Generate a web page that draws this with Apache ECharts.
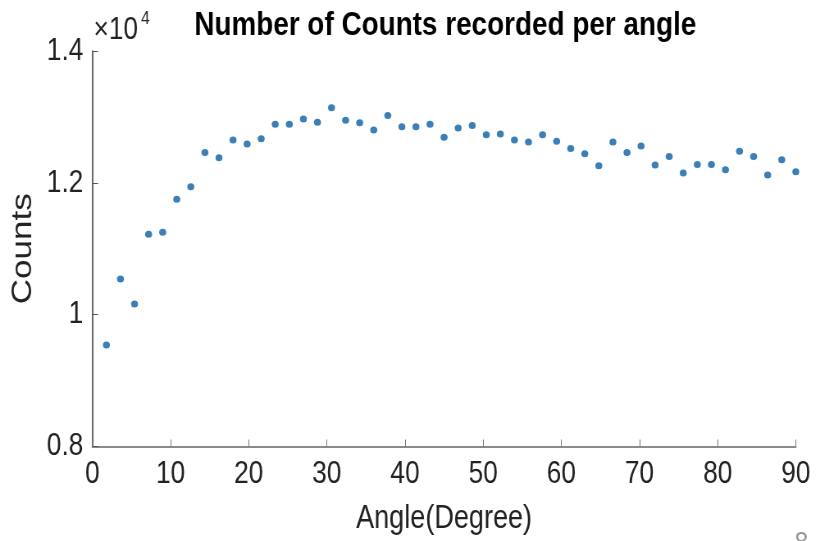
<!DOCTYPE html>
<html><head><meta charset="utf-8">
<script src="https://cdn.jsdelivr.net/npm/echarts@6/dist/echarts.min.js"></script>
<style>
html,body{margin:0;padding:0;background:#fff;overflow:hidden;width:819px;height:541px}
#c{width:999px;height:541px;transform:scaleX(0.82);transform-origin:0 0}
</style>
</head><body><div id="c"></div>
<script>
const angles = [1.8,3.6,5.4,7.2,9,10.8,12.6,14.4,16.2,18,19.8,21.6,23.4,25.2,27,28.8,30.6,32.4,34.2,36,37.8,39.6,41.4,43.2,45,46.8,48.6,50.4,52.2,54,55.8,57.6,59.4,61.2,63,64.8,66.6,68.4,70.2,72,73.8,75.6,77.4,79.2,81,82.8,84.6,86.4,88.2,90];
const counts = [9540,10540,10160,11220,11250,11750,11940,12460,12380,12650,12590,12670,12890,12890,12970,12920,13140,12950,12910,12800,13020,12850,12850,12890,12690,12830,12870,12730,12740,12650,12620,12730,12630,12520,12440,12260,12620,12460,12560,12270,12400,12150,12280,12280,12200,12480,12400,12120,12350,12170];
const yTickLabels = {8000:'0.8',10000:'1',12000:'1.2',14000:'1.4'};
const titleText = 'Number of Counts recorded per angle';
const xName = 'Angle(Degree)';
const yName = 'Counts';

const S = 0.82; // horizontal squeeze of the whole figure (matches the reference's condensed look)
const FONT = "'Liberation Sans',Arial,sans-serif";
const chart = echarts.init(document.getElementById('c'));
chart.setOption({
  animation:false,
  backgroundColor:'#fff',
  title:{text:titleText,left:538,top:4,textAlign:'center',
    textStyle:{fontFamily:FONT,fontWeight:'bold',fontSize:34,color:'#000'}},
  grid:{left:112.6,right:28.5,top:51,bottom:94.5},
  xAxis:{type:'value',min:0,max:90,interval:10,
    name:xName,nameLocation:'middle',nameGap:56,
    nameTextStyle:{fontFamily:FONT,fontSize:33,color:'#222'},
    axisLine:{show:true,onZero:false,lineStyle:{color:'#8a8a8a',width:2}},
    axisTick:{show:true,inside:true,length:7,lineStyle:{color:'#777'}},
    axisLabel:{fontFamily:FONT,fontSize:32,color:'#222',margin:12},
    splitLine:{show:false}},
  yAxis:{type:'value',min:8000,max:14000,interval:2000,
    name:yName,nameLocation:'middle',nameGap:58,
    nameTextStyle:{fontFamily:FONT,fontSize:35,color:'#222'},
    axisLine:{show:true,lineStyle:{color:'#333',width:1.5}},
    axisTick:{show:true,inside:true,length:7,lineStyle:{color:'#555'}},
    axisLabel:{fontFamily:FONT,fontSize:32,color:'#222',margin:11,
      formatter:v=>yTickLabels[v]||''},
    splitLine:{show:false}},
  graphic:[
    {type:'text',left:114,top:14,style:{text:'×10',fontFamily:FONT,fontSize:32,fill:'#222'}},
    {type:'text',left:172,top:9,style:{text:'4',fontFamily:FONT,fontSize:19,fill:'#222'}},
    {type:'text',left:969,top:529,style:{text:'8',fontFamily:FONT,fontSize:30,fill:'#999'}}
  ],
  series:[{type:'scatter',symbol:'circle',symbolSize:[7/S,7],
    itemStyle:{color:'#0b5fa5'},
    data:angles.map((a,i)=>[a,counts[i]])}]
});
</script></body></html>
